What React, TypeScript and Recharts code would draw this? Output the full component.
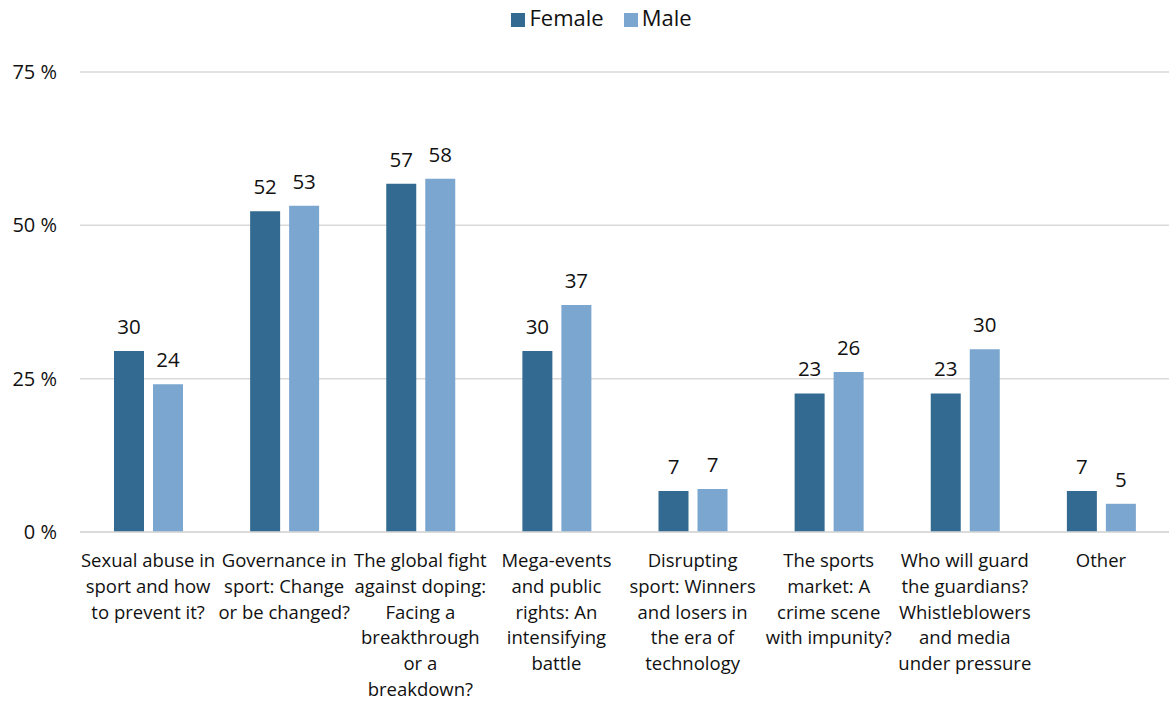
import React from 'react';
import { BarChart, Bar, XAxis, YAxis, CartesianGrid, Legend, LabelList } from 'recharts';

// topics asked about in the survey, broken into lines as on the original axis
const topics = [
  ['Sexual abuse in', 'sport and how', 'to prevent it?'],
  ['Governance in', 'sport: Change', 'or be changed?'],
  ['The global fight', 'against doping:', 'Facing a', 'breakthrough', 'or a', 'breakdown?'],
  ['Mega-events', 'and public', 'rights: An', 'intensifying', 'battle'],
  ['Disrupting', 'sport: Winners', 'and losers in', 'the era of', 'technology'],
  ['The sports', 'market: A', 'crime scene', 'with impunity?'],
  ['Who will guard', 'the guardians?', 'Whistleblowers', 'and media', 'under pressure'],
  ['Other'],
];

const female = [29.5, 52.3, 56.8, 29.5, 6.7, 22.6, 22.6, 6.7];
const male = [24.1, 53.2, 57.6, 37.0, 7.0, 26.1, 29.8, 4.6];

const yTicks = [0, 25, 50, 75];

const FEMALE_COLOR = '#336a91';
const MALE_COLOR = '#7aa6cf';
const FONT = '"Open Sans", Lato, sans-serif';

const data = topics.map((lines, i) => ({
  topic: lines.join(' '),
  Female: female[i],
  Male: male[i],
}));

const TopicTick = ({ x, y, index }: any) => {
  const lines = topics[index] || [];
  return (
    <g transform={`translate(${x},${y})`}>
      {lines.map((line, i) => (
        <text
          key={i}
          x={0}
          y={27 + i * 25.8}
          textAnchor="middle"
          fontSize={18.5}
          fontFamily={FONT}
          fill="#111"
        >
          {line}
        </text>
      ))}
    </g>
  );
};

const App = () => {
  return (
    <div style={{ position: 'absolute', left: 0, top: 0 }}>
      <BarChart
        width={1169}
        height={704}
        data={data}
        margin={{ top: 42, right: 0, bottom: 0, left: 0 }}
        barSize={30}
        barGap={9}
        style={{ fontFamily: FONT }}
      >
        <CartesianGrid vertical={false} stroke="#d9d9d9" strokeWidth={1.5} />
        <XAxis
          dataKey="topic"
          interval={0}
          height={172}
          tickLine={false}
          axisLine={{ stroke: '#d9d9d9', strokeWidth: 1.5 }}
          tick={<TopicTick />}
        />
        <YAxis
          width={80}
          domain={[0, 75]}
          ticks={yTicks}
          tickFormatter={(v) => `${v} %`}
          axisLine={false}
          tickLine={false}
          tickMargin={17}
          tick={{ fontSize: 20, fill: '#111', fontFamily: FONT }}
        />
        <Legend
          verticalAlign="top"
          align="center"
          iconType="square"
          iconSize={14}
          wrapperStyle={{ top: 2, left: 27, fontSize: 22, fontFamily: FONT }}
          formatter={(value) => <span style={{ color: '#111', marginRight: 10 }}>{value}</span>}
        />
        <Bar dataKey="Female" fill={FEMALE_COLOR} isAnimationActive={false}>
          <LabelList
            dataKey="Female"
            position="top"
            offset={17}
            formatter={(v: any) => Math.round(v)}
            style={{ fontSize: 20.5, fill: '#111', fontFamily: FONT }}
          />
        </Bar>
        <Bar dataKey="Male" fill={MALE_COLOR} isAnimationActive={false}>
          <LabelList
            dataKey="Male"
            position="top"
            offset={17}
            formatter={(v: any) => Math.round(v)}
            style={{ fontSize: 20.5, fill: '#111', fontFamily: FONT }}
          />
        </Bar>
      </BarChart>
    </div>
  );
};

export default App;
